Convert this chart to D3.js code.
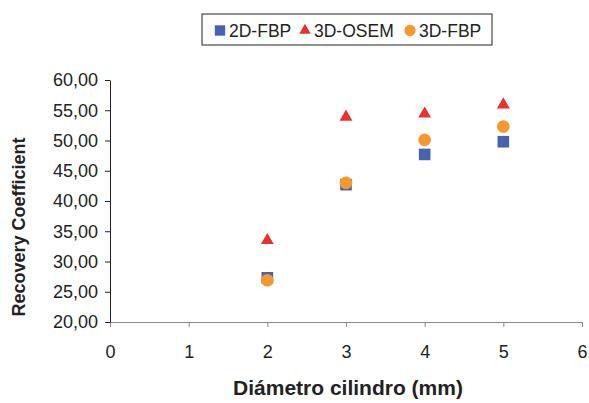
<!DOCTYPE html>
<html>
<head>
<meta charset="utf-8">
<script src="https://cdn.jsdelivr.net/npm/d3@7"></script>
<style>
  body { margin: 0; background: #fff; }
  svg { display: block; font-family: Arial, "Liberation Sans", sans-serif; }
</style>
</head>
<body>
<div id="chart"></div>
<script>
// Recovery coefficient vs cylinder diameter
var diameters = [2, 3, 4, 5];
var fbp2d = [27.3, 42.7, 47.7, 49.8];
var osem3d = [33.5, 53.9, 54.4, 55.9];
var fbp3d = [26.9, 43.0, 50.1, 52.3];
var xTicks = [0, 1, 2, 3, 4, 5, 6];
var yTicks = [20, 25, 30, 35, 40, 45, 50, 55, 60];

var series = [
  { name: "2D-FBP", values: fbp2d, symbol: d3.symbolSquare, color: "#4563AE", size: 135 },
  { name: "3D-OSEM", values: osem3d, symbol: d3.symbolTriangle, color: "#E8322B", size: 72 },
  { name: "3D-FBP", values: fbp3d, symbol: d3.symbolCircle, color: "#F7982E", size: 125 }
];

var W = 589, H = 403;
var margin = { top: 80, right: 7, bottom: 81, left: 110 },
    width = W - margin.left - margin.right,
    height = H - margin.top - margin.bottom;

var svg = d3.select("#chart").append("svg")
    .attr("width", W)
    .attr("height", H);

var g = svg.append("g")
    .attr("transform", "translate(" + margin.left + "," + margin.top + ")");

var x = d3.scaleLinear().domain([0, 6]).range([0, width]);
var y = d3.scaleLinear().domain([20, 60]).range([height, 0]);

var fmt = function (d) { return d3.format(".2f")(d).replace(".", ","); };

// x axis
var xg = g.append("g")
    .attr("transform", "translate(0," + height + ")")
    .call(d3.axisBottom(x).tickValues(xTicks).tickFormat(d3.format("d")).tickSize(5).tickPadding(18).tickSizeOuter(0));
xg.select(".domain").attr("stroke", "#888");
xg.selectAll(".tick line").attr("stroke", "#888");
xg.selectAll(".tick text").attr("font-size", "18px").attr("fill", "#222");

// y axis
var yg = g.append("g")
    .call(d3.axisLeft(y).tickValues(yTicks).tickFormat(fmt).tickSize(5).tickPadding(7).tickSizeOuter(0));
yg.select(".domain").attr("stroke", "#222");
yg.selectAll(".tick line").attr("stroke", "#222");
yg.selectAll(".tick text").attr("font-size", "18px").attr("fill", "#222");

// axis titles
svg.append("text")
    .attr("x", 348)
    .attr("y", 395)
    .attr("text-anchor", "middle")
    .attr("font-size", "21px")
    .attr("font-weight", "bold")
    .attr("fill", "#222")
    .text("Diámetro cilindro (mm)");

svg.append("text")
    .attr("transform", "translate(25,227) rotate(-90)")
    .attr("text-anchor", "middle")
    .attr("font-size", "18px")
    .attr("font-weight", "bold")
    .attr("fill", "#222")
    .text("Recovery Coefficient");

// points
series.forEach(function (s) {
  g.selectAll(null)
      .data(diameters.map(function (d, i) { return { x: d, y: s.values[i] }; }))
      .enter()
      .append("path")
      .attr("d", d3.symbol().type(s.symbol).size(s.size))
      .attr("transform", function (d) { return "translate(" + x(d.x) + "," + y(d.y) + ")"; })
      .attr("fill", s.color);
});

// legend
var legend = svg.append("g").attr("transform", "translate(202,14)");
legend.append("rect")
    .attr("width", 290)
    .attr("height", 31)
    .attr("fill", "#fff")
    .attr("stroke", "#222")
    .attr("stroke-width", 1);

var lx = [18, 103, 208];
series.forEach(function (s, i) {
  legend.append("path")
      .attr("d", d3.symbol().type(s.symbol).size(s.size * 0.8))
      .attr("transform", "translate(" + lx[i] + ",16.5)")
      .attr("fill", s.color);
  legend.append("text")
      .attr("x", lx[i] + 9)
      .attr("y", 23)
      .attr("font-size", "17.5px")
      .attr("fill", "#222")
      .text(s.name);
});
</script>
</body>
</html>
